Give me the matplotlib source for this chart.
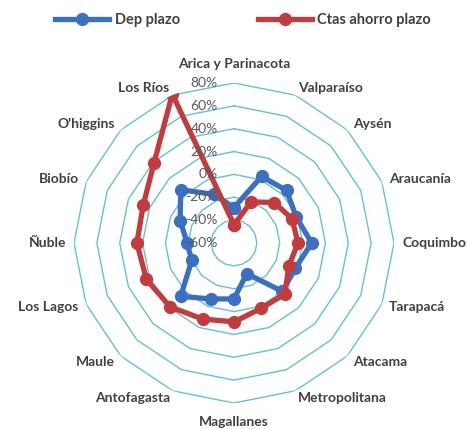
import numpy as np
import matplotlib
matplotlib.use('Agg')
import matplotlib.pyplot as plt
from matplotlib.transforms import offset_copy

plt.rcParams['font.family'] = ['Lato', 'DejaVu Sans']

regiones = ['Arica y Parinacota', 'Valparaíso', 'Aysén', 'Araucanía', 'Coquimbo',
            'Tarapacá', 'Atacama', 'Metropolitana', 'Magallanes', 'Antofagasta',
            'Maule', 'Los Lagos', 'Ñuble', 'Biobío', "O'higgins", 'Los Ríos']
dep_plazo = [-29, 3, 5, -1, 8, -2, 0, -31, -11, -7, 6, -20, -19, -9, 6, -14]
ctas_ahorro = [-44, -21, -10, -5, -4, -8, 3, 2, 9, 12, 19, 23, 25, 26, 39, 81]
niveles = [-40, -20, 0, 20, 40, 60, 80]
etiquetas = ['-60%', '-40%', '-20%', '0%', '20%', '40%', '60%', '80%']

n = len(regiones)
ang = np.linspace(0, 2 * np.pi, n, endpoint=False)
ang_c = np.append(ang, ang[0])

fig = plt.figure(figsize=(4.68, 4.29), dpi=100)
ax = fig.add_axes([0.5 - 0.3419, 0.4336 - 0.373, 0.6838, 0.746], projection='polar')
ax.set_theta_zero_location('N')
ax.set_theta_direction(-1)
ax.set_ylim(-60, 80)
ax.grid(False)
ax.set_xticks([])
ax.set_yticks([])
ax.spines['polar'].set_visible(False)

# polygon gridlines like excel radar
for lv in niveles:
    ax.plot(ang_c, [lv] * (n + 1), color='#62C3D2', lw=1.0, zorder=1)

azul = '#3B6FC4'
rojo = '#C43B3D'
l1, = ax.plot(ang_c, dep_plazo + dep_plazo[:1], color=azul, lw=3.8, marker='o', ms=8.5,
              zorder=3, label='Dep plazo')
l2, = ax.plot(ang_c, ctas_ahorro + ctas_ahorro[:1], color=rojo, lw=3.8, marker='o', ms=8.5,
              zorder=4, label='Ctas ahorro plazo')

# radial tick labels
trans = offset_copy(ax.transData, fig=fig, x=-16, y=0, units='dots')
for v, t in zip([-60] + niveles, etiquetas):
    ax.text(0, v, t, transform=trans, ha='right', va='center', fontsize=10,
            color='#595959', zorder=5)

# category labels
for a, r in zip(ang, regiones):
    s = np.sin(a)
    c = np.cos(a)
    if abs(s) < 0.01:
        ha = 'center'
        va = 'bottom' if c > 0 else 'top'
        rr = 91
    else:
        ha = 'left' if s > 0 else 'right'
        va = 'center'
        rr = 87
    ax.text(a, rr, r, ha=ha, va=va, fontsize=10, fontweight='bold', color='#404040')

fig.legend(handles=[l1, l2], loc='upper center', bbox_to_anchor=(0.52, 1.0), ncol=2,
           frameon=False, handlelength=3.7, handletextpad=0.4, columnspacing=5.3,
           prop={'weight': 'bold', 'size': 10.5}, labelcolor='#404040')

fig.savefig('out.png', dpi=100, facecolor='white')
